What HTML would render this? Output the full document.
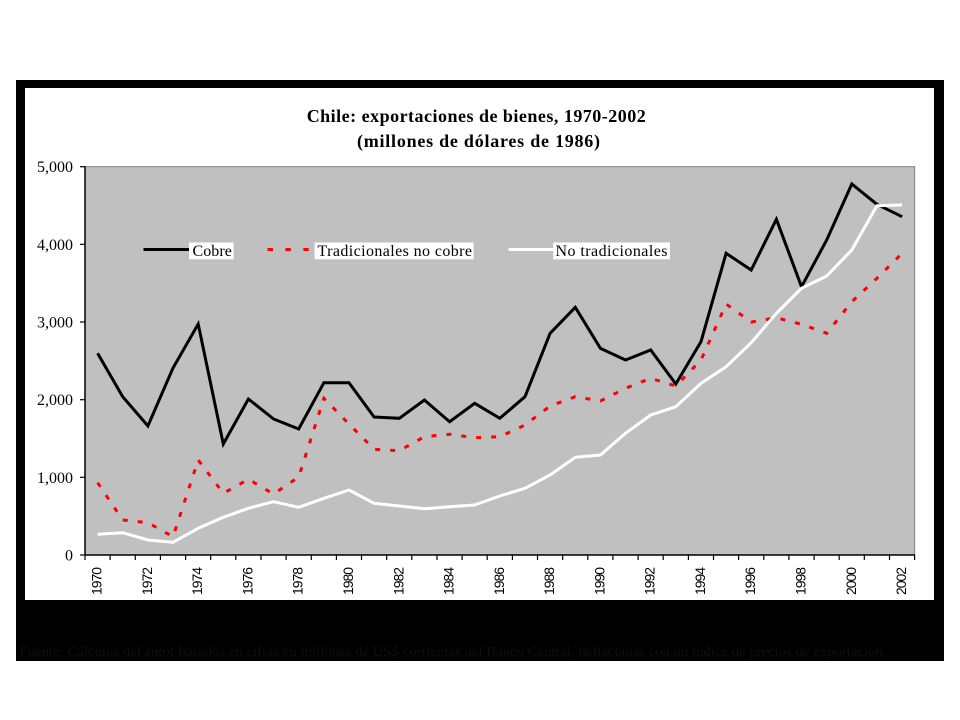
<!DOCTYPE html>
<html>
<head>
<meta charset="utf-8">
<style>
html,body{margin:0;padding:0;background:#fff;}
svg{display:block;}
</style>
</head>
<body>
<svg width="960" height="720" viewBox="0 0 960 720" xmlns="http://www.w3.org/2000/svg">
<rect x="0" y="0" width="960" height="720" fill="#fff"/>
<rect x="16" y="80" width="928" height="581" fill="#000"/>
<rect x="25" y="88" width="909" height="512" fill="#fff"/>

<!-- Title -->
<g font-family="'Liberation Serif', serif" font-weight="bold" font-size="18" fill="#000">
<text x="306.7" y="122" textLength="339" lengthAdjust="spacing">Chile: exportaciones de bienes, 1970-2002</text>
<text x="357" y="147" textLength="243" lengthAdjust="spacing">(millones de dólares de 1986)</text>
</g>

<!-- Plot area -->
<rect x="85" y="166.7" width="829.7" height="388.3" fill="#c0c0c0" stroke="#808080" stroke-width="1"/>
<line x1="85" y1="166.2" x2="85" y2="555.5" stroke="#000" stroke-width="1.5"/>
<line x1="84.5" y1="555" x2="915" y2="555" stroke="#000" stroke-width="1.5"/>

<!-- Y ticks -->
<g stroke="#000" stroke-width="1.2">
<line x1="80" y1="555" x2="85" y2="555"/>
<line x1="80" y1="477.3" x2="85" y2="477.3"/>
<line x1="80" y1="399.7" x2="85" y2="399.7"/>
<line x1="80" y1="322" x2="85" y2="322"/>
<line x1="80" y1="244.3" x2="85" y2="244.3"/>
<line x1="80" y1="166.7" x2="85" y2="166.7"/>
</g>
<g font-family="'Liberation Serif', serif" font-size="16" fill="#000" text-anchor="end">
<text x="73" y="560.5">0</text>
<text x="73" y="482.8">1,000</text>
<text x="73" y="405.2">2,000</text>
<text x="73" y="327.5">3,000</text>
<text x="73" y="249.8">4,000</text>
<text x="73" y="172.2">5,000</text>
</g>

<!-- X ticks -->
<g stroke="#000" stroke-width="1.2">
<line x1="85" y1="555" x2="85" y2="560"/><line x1="110.1" y1="555" x2="110.1" y2="560"/><line x1="135.3" y1="555" x2="135.3" y2="560"/><line x1="160.4" y1="555" x2="160.4" y2="560"/><line x1="185.6" y1="555" x2="185.6" y2="560"/><line x1="210.7" y1="555" x2="210.7" y2="560"/><line x1="235.8" y1="555" x2="235.8" y2="560"/><line x1="261" y1="555" x2="261" y2="560"/><line x1="286.1" y1="555" x2="286.1" y2="560"/><line x1="311.3" y1="555" x2="311.3" y2="560"/><line x1="336.4" y1="555" x2="336.4" y2="560"/><line x1="361.5" y1="555" x2="361.5" y2="560"/><line x1="386.7" y1="555" x2="386.7" y2="560"/><line x1="411.8" y1="555" x2="411.8" y2="560"/><line x1="437" y1="555" x2="437" y2="560"/><line x1="462.1" y1="555" x2="462.1" y2="560"/><line x1="487.2" y1="555" x2="487.2" y2="560"/><line x1="512.4" y1="555" x2="512.4" y2="560"/><line x1="537.5" y1="555" x2="537.5" y2="560"/><line x1="562.7" y1="555" x2="562.7" y2="560"/><line x1="587.8" y1="555" x2="587.8" y2="560"/><line x1="612.9" y1="555" x2="612.9" y2="560"/><line x1="638.1" y1="555" x2="638.1" y2="560"/><line x1="663.2" y1="555" x2="663.2" y2="560"/><line x1="688.4" y1="555" x2="688.4" y2="560"/><line x1="713.5" y1="555" x2="713.5" y2="560"/><line x1="738.6" y1="555" x2="738.6" y2="560"/><line x1="763.8" y1="555" x2="763.8" y2="560"/><line x1="788.9" y1="555" x2="788.9" y2="560"/><line x1="814.1" y1="555" x2="814.1" y2="560"/><line x1="839.2" y1="555" x2="839.2" y2="560"/><line x1="864.3" y1="555" x2="864.3" y2="560"/><line x1="889.5" y1="555" x2="889.5" y2="560"/><line x1="914.6" y1="555" x2="914.6" y2="560"/>
</g>
<g font-family="'Liberation Sans', sans-serif" font-size="14" fill="#000" text-anchor="end">
<text transform="translate(101.6,567) rotate(-90)" textLength="28">1970</text>
<text transform="translate(151.9,567) rotate(-90)" textLength="28">1972</text>
<text transform="translate(202.2,567) rotate(-90)" textLength="28">1974</text>
<text transform="translate(252.4,567) rotate(-90)" textLength="28">1976</text>
<text transform="translate(302.7,567) rotate(-90)" textLength="28">1978</text>
<text transform="translate(353,567) rotate(-90)" textLength="28">1980</text>
<text transform="translate(403.3,567) rotate(-90)" textLength="28">1982</text>
<text transform="translate(453.6,567) rotate(-90)" textLength="28">1984</text>
<text transform="translate(503.8,567) rotate(-90)" textLength="28">1986</text>
<text transform="translate(554.1,567) rotate(-90)" textLength="28">1988</text>
<text transform="translate(604.4,567) rotate(-90)" textLength="28">1990</text>
<text transform="translate(654.7,567) rotate(-90)" textLength="28">1992</text>
<text transform="translate(705,567) rotate(-90)" textLength="28">1994</text>
<text transform="translate(755.2,567) rotate(-90)" textLength="28">1996</text>
<text transform="translate(805.5,567) rotate(-90)" textLength="28">1998</text>
<text transform="translate(855.8,567) rotate(-90)" textLength="28">2000</text>
<text transform="translate(906.1,567) rotate(-90)" textLength="28">2002</text>
</g>

<!-- Series -->
<polyline fill="none" stroke="#000" stroke-width="3" stroke-linejoin="miter"
points="97.6,353.3 122.7,396.7 147.9,426 173,368 198.2,324 223.3,444 248.4,399 273.6,419 298.7,429 323.9,382.7 349,382.7 374.1,417 399.3,418.3 424.4,400 449.6,421.7 474.7,403.3 499.8,418.3 525,396.7 550.1,333.3 575.3,307.3 600.4,348.3 625.5,360 650.7,350 675.8,384 701,341.7 726.1,253.3 751.2,270 776.4,219.3 801.5,286.7 826.7,240 851.8,184 876.9,204.3 902.1,216.7"/>
<polyline fill="none" stroke="#ff0000" stroke-width="3" stroke-dasharray="5 10"
points="97.6,482.7 122.7,520 147.9,522.7 173,536.7 198.2,460 223.3,493.3 248.4,479.3 273.6,494 298.7,477 323.9,398.3 349,424 374.1,449.3 399.3,450.7 424.4,436.7 449.6,434.3 474.7,437.7 499.8,436.7 525,425 550.1,406 575.3,396.7 600.4,401 625.5,388.3 650.7,378.3 675.8,386 701,360 726.1,304 751.2,322 776.4,317.7 801.5,324.3 826.7,333.3 851.8,301.7 876.9,278.3 902.1,253.3"/>
<polyline fill="none" stroke="#ffffff" stroke-width="3" stroke-linejoin="round"
points="97.6,534.3 122.7,532.7 147.9,540 173,542.3 198.2,528.3 223.3,517.3 248.4,508.3 273.6,501.7 298.7,507.3 323.9,498.3 349,490 374.1,503.3 399.3,506 424.4,508.7 449.6,506.7 474.7,505 499.8,496 525,488.3 550.1,475 575.3,457.3 600.4,455 625.5,433.3 650.7,415 675.8,406.7 701,383.3 726.1,366.7 751.2,342.7 776.4,313.3 801.5,288.3 826.7,276 851.8,250 876.9,205.7 902.1,205"/>

<!-- Legend -->
<line x1="143.5" y1="249.5" x2="189" y2="249.5" stroke="#000" stroke-width="3"/>
<rect x="189" y="242.5" width="44.6" height="16.8" fill="#fff"/>
<line x1="267.5" y1="249.5" x2="310" y2="249.5" stroke="#ff0000" stroke-width="3" stroke-dasharray="5.4 12.5"/>
<rect x="314.6" y="242.5" width="159" height="16.8" fill="#fff"/>
<line x1="508.6" y1="249.5" x2="553.2" y2="249.5" stroke="#fff" stroke-width="3"/>
<rect x="553.2" y="242.5" width="116.8" height="16.8" fill="#fff"/>
<g font-family="'Liberation Serif', serif" font-size="16" fill="#000">
<text x="192.5" y="256" textLength="39.3">Cobre</text>
<text x="317.5" y="256" textLength="154.5">Tradicionales no cobre</text>
<text x="555.5" y="256" textLength="112">No tradicionales</text>
</g>

<!-- Footnote (nearly invisible on black) -->
<text x="19.5" y="656" font-family="'Liberation Serif', serif" font-size="14" fill="#0f0f0f" textLength="867" lengthAdjust="spacingAndGlyphs">Fuente: Cálculos del autor basados en cifras en millones de US$ corrientes del Banco Central, deflactadas con un índice de precios de exportación.</text>
</svg>
</body>
</html>
